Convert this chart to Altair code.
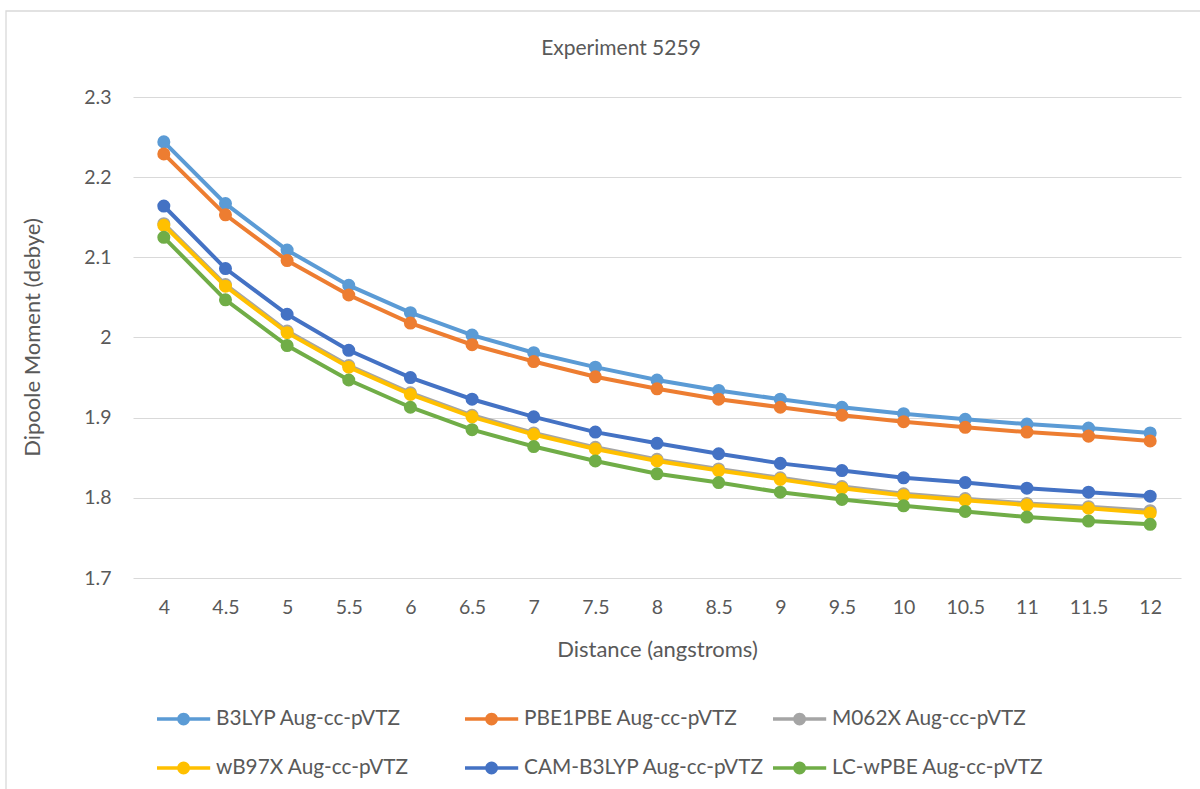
import altair as alt
import pandas as pd

distances = ["4", "4.5", "5", "5.5", "6", "6.5", "7", "7.5", "8", "8.5",
             "9", "9.5", "10", "10.5", "11", "11.5", "12"]

series_names = ["B3LYP Aug-cc-pVTZ", "PBE1PBE Aug-cc-pVTZ", "M062X Aug-cc-pVTZ",
                "wB97X Aug-cc-pVTZ", "CAM-B3LYP Aug-cc-pVTZ", "LC-wPBE Aug-cc-pVTZ"]
series_colors = ["#5B9BD5", "#ED7D31", "#A5A5A5", "#FFC000", "#4472C4", "#70AD47"]

b3lyp = [2.244, 2.167, 2.109, 2.065, 2.031, 2.003, 1.981, 1.963, 1.947, 1.934,
         1.923, 1.913, 1.905, 1.898, 1.892, 1.887, 1.881]
pbe1pbe = [2.229, 2.153, 2.096, 2.053, 2.018, 1.991, 1.970, 1.951, 1.936, 1.923,
           1.913, 1.903, 1.895, 1.888, 1.882, 1.877, 1.871]
m062x = [2.142, 2.066, 2.008, 1.965, 1.931, 1.903, 1.881, 1.863, 1.848, 1.836,
         1.825, 1.814, 1.805, 1.799, 1.793, 1.789, 1.784]
wb97x = [2.140, 2.064, 2.006, 1.963, 1.929, 1.901, 1.879, 1.861, 1.846, 1.834,
         1.823, 1.812, 1.803, 1.797, 1.791, 1.787, 1.781]
cam_b3lyp = [2.164, 2.086, 2.029, 1.984, 1.950, 1.923, 1.901, 1.882, 1.868, 1.855,
             1.843, 1.834, 1.825, 1.819, 1.812, 1.807, 1.802]
lc_wpbe = [2.125, 2.047, 1.990, 1.947, 1.913, 1.885, 1.864, 1.846, 1.830, 1.819,
           1.807, 1.798, 1.790, 1.783, 1.776, 1.771, 1.767]

y_ticks = [1.7, 1.8, 1.9, 2.0, 2.1, 2.2, 2.3]
chart_title = "Experiment 5259"

all_values = [b3lyp, pbe1pbe, m062x, wb97x, cam_b3lyp, lc_wpbe]

FONT = "Lato"
TEXT_COLOR = "#595959"
GRID = "#D9D9D9"

# line-with-marker legend glyph: wide line with a dot in its middle
legend_symbol = ("M-1,-0.125H2.8V0.125H-1Z "
                 "M1.36,0A0.46,0.46 0 1,1 0.44,0A0.46,0.46 0 1,1 1.36,0Z")

color_scale = alt.Scale(domain=series_names, range=series_colors)
color_legend = alt.Legend(
    title=None, orient="none", legendX=24, legendY=608, columns=3,
    direction="horizontal", gridAlign="all", columnPadding=8, rowPadding=25,
    symbolType=legend_symbol, symbolSize=784, symbolStrokeWidth=0,
    labelFont=FONT, labelFontSize=20.8, labelColor=TEXT_COLOR, labelOffset=31,
    labelLimit=400, padding=0,
)

x_enc = alt.X("distance:O", sort=distances,
              scale=alt.Scale(type="point", padding=0.5),
              axis=alt.Axis(title="Distance (angstroms)", labelAngle=0,
                            domain=False, ticks=False, grid=False,
                            labelPadding=20, titleY=71, titleBaseline="middle",
                            titleFontWeight="normal"))
y_enc = alt.Y("value:Q",
              scale=alt.Scale(domain=[1.7, 2.3], nice=False, zero=False),
              axis=alt.Axis(title="Dipoole Moment (debye)", values=y_ticks,
                            format="~g", domain=False, ticks=False, grid=True,
                            gridColor=GRID, gridWidth=1, labelPadding=22,
                            titleX=-101, titleY=240, titleBaseline="middle",
                            titleAlign="center", titleFontWeight="normal"))
color_enc = alt.Color("series:N", scale=color_scale, legend=color_legend,
                      sort=series_names)

layers = []
border = alt.Chart(alt.Data(values=[{"a": 1}])).mark_rect(
    fill=None, fillOpacity=0, stroke="#D9D9D9", strokeWidth=1.3
).encode(x=alt.value(-127), x2=alt.value(1100), y=alt.value(-86), y2=alt.value(800))
layers.append(border)

title_layer = alt.Chart(alt.Data(values=[{"t": chart_title}])).mark_text(
    font=FONT, fontSize=21, color=TEXT_COLOR, align="center", baseline="middle"
).encode(text="t:N", x=alt.value(488), y=alt.value(-48))
layers.append(title_layer)

for name, vals in zip(series_names, all_values):
    df = pd.DataFrame({"distance": distances, "value": vals, "series": name})
    base = alt.Chart(df).encode(x=x_enc, y=y_enc, color=color_enc)
    layers.append(base.mark_line(strokeWidth=4))
    layers.append(base.mark_point(filled=True, size=170, opacity=1))

chart = alt.layer(*layers).properties(
    width=1048, height=481,
    background="white",
    autosize=alt.AutoSizeParams(type="none"),
    padding={"left": 133, "top": 97, "right": 19, "bottom": 211},
).configure_view(stroke=None).configure_axis(
    labelFont=FONT, labelFontSize=19.5, labelColor=TEXT_COLOR,
    titleFont=FONT, titleFontSize=22, titleColor=TEXT_COLOR,
)

chart.save("out.html", embed_options={"renderer": "svg", "actions": False})
